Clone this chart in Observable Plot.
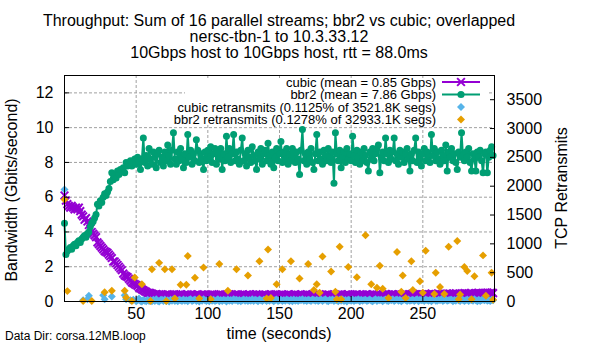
<!DOCTYPE html>
<html><head><meta charset="utf-8">
<script src="https://cdn.jsdelivr.net/npm/d3@7"></script>
<script src="https://cdn.jsdelivr.net/npm/@observablehq/plot@0.6"></script>
<style>
body{margin:0;background:#fff;}
#wrap{position:relative;width:600px;height:350px;overflow:hidden;}
#wrap svg{position:absolute;left:0;top:0;}
</style></head><body><div id="wrap"></div>
<script>
const _ = null; // no sample in that second
const times = [0,1,2,3,4,5,6,7,8,9,10,11,12,13,14,15,16,17,18,19,20,21,22,23,24,25,26,27,28,29,
30,31,32,33,34,35,36,37,38,39,40,41,42,43,44,45,46,47,48,49,50,51,52,53,54,55,56,57,58,59,
60,61,62,63,64,65,66,67,68,69,70,71,72,73,74,75,76,77,78,79,80,81,82,83,84,85,86,87,88,89,
90,91,92,93,94,95,96,97,98,99,100,101,102,103,104,105,106,107,108,109,110,111,112,113,114,115,116,117,118,119,
120,121,122,123,124,125,126,127,128,129,130,131,132,133,134,135,136,137,138,139,140,141,142,143,144,145,146,147,148,149,
150,151,152,153,154,155,156,157,158,159,160,161,162,163,164,165,166,167,168,169,170,171,172,173,174,175,176,177,178,179,
180,181,182,183,184,185,186,187,188,189,190,191,192,193,194,195,196,197,198,199,200,201,202,203,204,205,206,207,208,209,
210,211,212,213,214,215,216,217,218,219,220,221,222,223,224,225,226,227,228,229,230,231,232,233,234,235,236,237,238,239,
240,241,242,243,244,245,246,247,248,249,250,251,252,253,254,255,256,257,258,259,260,261,262,263,264,265,266,267,268,269,
270,271,272,273,274,275,276,277,278,279,280,281,282,283,284,285,286,287,288,289,290,291,292,293,294,295,296,297,298,299];

const cubicGbps = [6.1,5.8,5.6,5.5,5.4,5.5,5.4,5.3,5.4,5.3,
5.4,5.2,5.0,4.9,4.7,4.8,4.6,4.4,4.2,4.0,
3.9,3.8,3.7,3.4,3.3,3.2,3.1,3.0,2.9,2.85,
2.8,2.7,2.6,2.5,2.3,2.3,2.2,2.1,2.0,1.9,
1.8,1.6,1.5,1.45,1.4,1.3,1.2,1.1,1.05,1.0,
0.95,0.9,0.8,0.75,0.7,0.65,0.6,0.55,0.5,0.5,
0.48,0.45,0.42,0.4,0.43,0.38,0.41,0.36,0.4,0.38,
0.35,0.39,0.42,0.37,0.34,0.4,0.38,0.36,0.41,0.35,
0.38,0.42,0.36,0.34,0.39,0.37,0.41,0.35,0.38,0.4,
0.36,0.33,0.39,0.41,0.37,0.35,0.4,0.38,0.34,0.37,
0.4,0.36,0.38,0.42,0.35,0.37,0.39,0.34,0.38,0.41,
0.37,0.35,0.4,0.36,0.39,0.42,0.34,0.38,0.36,0.4,
0.38,0.41,0.35,0.37,0.4,0.36,0.33,0.39,0.37,0.42,
0.35,0.38,0.4,0.36,0.41,0.37,0.39,0.34,0.38,0.36,
0.4,0.37,0.35,0.39,0.42,0.36,0.38,0.41,0.35,0.37,
0.39,0.36,0.4,0.38,0.34,0.37,0.41,0.35,0.39,0.36,
0.38,0.42,0.36,0.39,0.35,0.4,0.37,0.33,0.38,0.41,
0.36,0.39,0.37,0.41,0.35,0.38,0.4,0.36,0.42,0.37,
0.39,0.35,0.38,0.36,0.4,0.37,0.34,0.39,0.41,0.36,
0.38,0.4,0.36,0.42,0.37,0.35,0.39,0.38,0.41,0.36,
0.37,0.4,0.35,0.38,0.42,0.36,0.39,0.37,0.4,0.35,
0.38,0.41,0.37,0.39,0.36,0.42,0.38,0.35,0.4,0.37,
0.39,0.36,0.41,0.38,0.43,0.37,0.4,0.36,0.39,0.42,
0.38,0.4,0.37,0.42,0.39,0.36,0.41,0.38,0.43,0.4,
0.37,0.41,0.39,0.44,0.38,0.42,0.4,0.37,0.43,0.39,
0.41,0.38,0.44,0.4,0.42,0.39,0.45,0.41,0.38,0.43,
0.4,0.44,0.42,0.39,0.45,0.41,0.43,0.46,0.4,0.44,
0.42,0.45,0.41,0.47,0.43,0.4,0.46,0.44,0.42,0.48,
0.45,0.43,0.47,0.44,0.49,0.42,0.46,0.48,0.44,0.5,
0.47,0.45,0.5,0.46,0.48,0.51,0.47,0.49,0.52,0.48];

const bbr2Gbps = [4.5,2.7,2.9,3.0,3.1,3.0,3.2,3.3,3.2,3.4,
3.5,3.4,3.6,3.7,3.8,3.7,3.9,4.0,4.3,4.5,
4.6,4.8,5.0,5.6,5.5,5.8,5.7,6.0,6.2,6.1,
6.3,6.5,6.9,7.4,7.0,7.2,7.1,7.5,7.3,7.6,
7.5,7.7,7.4,8.0,7.8,7.9,8.1,7.8,8.0,8.2,
7.9,8.3,8.1,7.6,8.2,9.4,8.0,8.4,7.8,8.8,
8.2,7.9,8.6,8.3,7.7,8.5,8.7,8.0,8.3,7.8,
8.6,8.1,9.0,8.4,7.9,8.7,9.7,8.2,7.9,8.6,
8.1,8.8,8.2,7.7,8.5,8.0,9.6,8.3,8.7,7.9,
8.5,8.1,9.3,8.7,8.0,8.5,8.2,7.6,8.6,8.1,
8.7,8.2,8.9,8.0,8.5,8.8,7.9,8.6,8.2,8.8,
7.6,8.5,8.1,9.5,8.3,8.8,8.0,8.5,9.6,8.1,
8.6,8.2,7.9,8.7,9.4,8.1,8.5,7.8,8.7,8.3,
8.0,8.9,8.4,8.1,7.6,8.6,8.2,8.8,7.9,8.5,
8.7,8.1,9.1,8.4,7.9,8.6,7.7,8.3,8.8,8.1,
8.5,9.2,8.0,8.6,8.2,8.8,7.9,8.5,8.1,8.8,
8.4,8.0,8.6,8.2,7.3,8.7,9.9,8.1,8.5,7.9,
8.6,8.2,8.8,8.0,7.6,8.5,9.6,8.1,8.6,8.2,
7.9,8.7,8.4,8.1,8.8,8.3,8.0,8.6,6.8,9.7,
8.5,8.1,8.7,7.7,8.3,8.6,8.0,8.8,8.2,8.5,
8.1,9.5,8.4,8.0,8.7,8.3,7.9,8.6,8.1,8.8,
8.4,8.0,7.5,8.6,8.2,8.8,8.1,8.5,8.8,9.0,
7.4,8.3,8.6,8.1,9.4,8.5,8.0,8.7,8.2,8.6,
9.4,8.1,8.5,7.9,8.7,8.3,8.6,8.0,8.5,8.8,
8.2,7.5,8.5,8.1,8.7,9.4,8.0,8.6,8.3,7.8,
8.5,8.8,8.1,8.6,8.3,8.0,9.6,8.4,8.8,8.1,
8.6,8.2,7.9,8.7,8.4,8.1,9.0,7.5,8.6,8.3,
8.8,8.1,8.5,8.0,7.6,8.6,8.3,9.7,8.4,8.1,
8.6,8.3,8.8,8.0,7.5,8.5,8.2,7.5,8.6,8.3,
8.7,8.1,7.4,8.5,8.6,7.4,8.3,8.7,8.9,8.4];

const cubicRetrans = [1944,_,_,_,_,_,_,_,_,_,
_,_,_,20,_,_,40,100,_,_,
_,_,_,_,_,_,_,110,40,_,
_,_,_,85,_,_,_,_,_,_,
_,_,110,40,_,_,20,_,30,_,
5,20,50,10,0,25,15,5,30,10,
20,5,30,10,40,15,0,25,30,10,
35,10,20,0,30,15,40,10,25,5,
30,20,10,35,15,25,5,30,40,10,
20,35,10,25,0,30,15,40,20,10,
25,5,35,15,30,10,20,40,5,25,
10,30,20,0,35,15,25,10,40,20,
30,10,25,5,20,35,15,30,10,25,
15,40,10,30,20,5,35,20,10,30,
25,10,30,15,40,20,5,25,35,10,
20,30,10,25,15,35,20,10,30,5,
35,15,25,10,30,20,40,15,25,10,
30,20,10,35,25,15,30,10,20,35,
10,25,40,15,5,30,20,35,10,25,
20,5,30,15,35,10,25,0,30,20,
15,35,10,25,20,40,5,30,15,25,
30,10,20,35,15,5,25,40,10,30,
20,30,5,25,35,15,10,30,20,40,
10,25,35,15,30,5,20,35,25,10,
35,15,20,30,10,25,40,5,30,20,
25,10,35,20,15,30,5,25,40,15,
15,30,20,40,10,25,35,15,20,30,
30,5,25,15,35,20,10,40,25,10,
20,35,10,30,25,15,40,20,5,30,
10,25,30,20,35,15,25,10,30,20];

const bbr2Retrans = [1771,_,180,_,_,_,_,_,_,_,
_,_,_,10,_,_,_,_,_,10,
_,_,_,_,_,_,_,_,160,_,
_,_,_,185,_,_,_,_,_,_,
_,_,185,70,_,_,_,10,_,415,
_,_,_,_,300,_,_,_,_,_,
10,560,_,_,_,_,670,_,_,_,
560,10,_,_,_,560,_,50,_,_,
_,290,_,_,_,290,790,_,_,_,
_,410,_,_,50,_,_,590,_,_,
_,_,40,_,_,_,_,_,650,_,
_,_,_,_,185,_,_,_,_,_,
560,_,_,_,_,_,_,_,450,_,
_,_,_,_,_,_,700,_,_,_,
_,50,900,_,60,_,_,_,300,_,
_,_,560,_,_,_,_,_,700,_,
_,_,_,_,400,_,_,_,_,_,
650,_,_,_,200,_,300,_,150,_,
780,_,_,_,_,_,520,_,_,170,
40,_,950,40,_,_,_,_,600,_,
_,_,_,_,420,_,_,_,_,_,
1150,_,_,_,300,_,_,_,240,_,
620,_,220,_,_,_,60,_,_,_,
_,_,860,_,_,170,450,_,60,_,
_,_,700,200,_,_,_,_,350,_,
150,_,880,_,_,_,_,_,130,500,
_,_,250,_,_,130,_,_,950,_,
_,_,_,_,1050,40,120,_,_,600,
_,530,_,_,40,_,440,_,_,_,
_,_,800,_,100,_,_,_,500,30];

const xTicks = [50,100,150,200,250];
const yTicks = [0,2,4,6,8,10,12];
const y2Ticks = [0,500,1000,1500,2000,2500,3000,3500];
const y2Max = 3920;   // right-axis value at the top of the frame
const yMax = 13;
const K = yMax / y2Max;

const titleLines = ["Throughput: Sum of 16 parallel streams; bbr2 vs cubic; overlapped",
  "nersc-tbn-1 to 10.3.33.12", "10Gbps host to 10Gbps host, rtt = 88.0ms"];
const legendLabels = ["cubic (mean = 0.85 Gbps)", "bbr2 (mean = 7.86 Gbps)",
  "cubic retransmits (0.1125% of 3521.8K segs)", "bbr2 retransmits (0.1278% of 32933.1K segs)"];
const colors = {cubic:"#9400d3", bbr2:"#009e73", cubicR:"#56b4e9", bbr2R:"#e69f00"};

const rows = times.map((t,i)=>({t, cubic:cubicGbps[i], bbr2:bbr2Gbps[i],
  cr: cubicRetrans[i] == null ? null : cubicRetrans[i]*K,
  br: bbr2Retrans[i] == null ? null : bbr2Retrans[i]*K}));
const crRows = rows.filter(d=>d.cr != null);
const brRows = rows.filter(d=>d.br != null);

const chart = Plot.plot({
  width:600, height:350,
  marginLeft:64, marginRight:106, marginTop:75, marginBottom:49,
  style:{fontFamily:"'Liberation Sans', Arial, sans-serif", fontSize:"16px", color:"#000", background:"transparent"},
  x:{domain:[0,300]},
  y:{domain:[0,yMax]},
  marks:[
    Plot.ruleX(xTicks, {x:d=>d, stroke:"#a0a0a0", strokeDasharray:"3,2", strokeWidth:1}),
    Plot.ruleY(yTicks.filter(v=>v>0), {y:d=>d, stroke:"#a0a0a0", strokeDasharray:"3,2", strokeWidth:1}),
    Plot.line(rows, {x:"t", y:"cubic", stroke:colors.cubic, strokeWidth:2}),
    Plot.dot(rows, {x:"t", y:"cubic", symbol:"times", r:3.6, stroke:colors.cubic, strokeWidth:2}),
    Plot.line(rows, {x:"t", y:"bbr2", stroke:colors.bbr2, strokeWidth:2}),
    Plot.dot(rows, {x:"t", y:"bbr2", r:3.5, fill:colors.bbr2, stroke:"none"}),
    Plot.dot(crRows, {x:"t", y:"cr", symbol:"diamond2", r:3.6, fill:colors.cubicR, stroke:"none"}),
    Plot.dot(brRows, {x:"t", y:"br", symbol:"diamond2", r:3.6, fill:colors.bbr2R, stroke:"none"}),
    Plot.frame({stroke:"#000", strokeWidth:1}),
    Plot.axisX(xTicks, {anchor:"bottom", tickSize:-5, tickPadding:11, label:null}),
    Plot.axisY(yTicks, {anchor:"left", tickSize:-5, tickPadding:16, label:null}),
    Plot.axisY(y2Ticks.map(v=>v*K), {anchor:"right", tickSize:-5, tickPadding:17, label:null, tickFormat:d=>String(Math.round(d/K))})
  ]
});
const wrap = document.getElementById("wrap");
wrap.appendChild(chart);

// overlay texts and legend
const ov = d3.select(wrap).append("svg").attr("width",600).attr("height",350)
  .style("font-family","'Liberation Sans', Arial, sans-serif").style("pointer-events","none");
titleLines.forEach((s,i)=>{
  ov.append("text").attr("x",279).attr("y",26+16*i).attr("text-anchor","middle").attr("font-size",16).text(s);
});
ov.append("text").attr("x",279).attr("y",339).attr("text-anchor","middle").attr("font-size",16).text("time (seconds)");
ov.append("text").attr("x",5).attr("y",340).attr("font-size",12).text("Data Dir: corsa.12MB.loop");
ov.append("text").attr("transform","translate(17,190) rotate(-90)").attr("text-anchor","middle").attr("font-size",16).text("Bandwidth (Gbits/second)");
ov.append("text").attr("transform","translate(567,188) rotate(-90)").attr("text-anchor","middle").attr("font-size",16).text("TCP Retransmits");

// legend
ov.append("rect").attr("x",185).attr("y",79).attr("width",303).attr("height",46).attr("fill","#fff");
const lgY = [82, 94.5, 107, 119.5];
const lgCol = [colors.cubic, colors.bbr2, colors.cubicR, colors.bbr2R];
legendLabels.forEach((s,i)=>{
  ov.append("text").attr("x",436).attr("y",lgY[i]).attr("dy","0.35em").attr("text-anchor","end").attr("font-size",13).text(s);
  const cx = 461;
  if (i<2) {
    ov.append("line").attr("x1",442).attr("x2",480).attr("y1",lgY[i]).attr("y2",lgY[i]).attr("stroke",lgCol[i]).attr("stroke-width",2);
  }
  const sym = i===0 ? d3.symbolTimes : i===1 ? d3.symbolCircle : d3.symbolDiamond2;
  const size = Math.PI*3.6*3.6;
  const p = ov.append("path").attr("d", d3.symbol(sym, size)()).attr("transform",`translate(${cx},${lgY[i]})`);
  if (i===0) p.attr("fill","none").attr("stroke",lgCol[i]).attr("stroke-width",2);
  else p.attr("fill",lgCol[i]);
});
</script></body></html>
